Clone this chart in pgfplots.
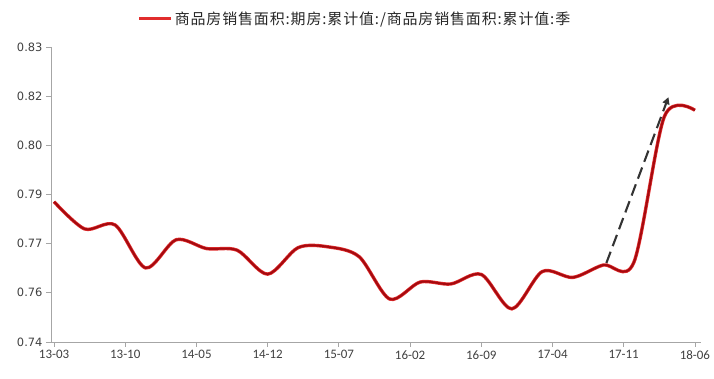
\documentclass[border=0pt]{standalone}
\usepackage{fontspec}
\usepackage{pgfplots}
\usepackage{pgfplotstable}
\pgfplotsset{compat=1.18}
\usetikzlibrary{arrows.meta}
\newfontfamily\cjk[LetterSpace=6]{Noto Sans CJK SC}
\newfontfamily\yfont{DejaVu Sans}
\newfontfamily\xfont{Carlito}
\definecolor{serred}{RGB}{165,10,15}
\definecolor{serglow}{RGB}{225,45,45}
\definecolor{axgray}{RGB}{166,166,166}
\definecolor{lblgray}{RGB}{64,64,64}

% quarterly ratio, months counted from 2013-03
\pgfplotstableread{
m v
0 0.7828
3 0.7745
6 0.7757
9 0.7626
12 0.7712
15 0.7685
18 0.7680
21 0.7607
24 0.7688
27 0.7690
30 0.7660
33 0.7531
36 0.7583
39 0.7577
42 0.7606
45 0.7501
48 0.7615
51 0.7597
54 0.7635
57 0.7643
60 0.8088
63 0.8107
}\ratiodata

\begin{document}
\begin{tikzpicture}
\begin{axis}[
  name=ax,
  scale only axis,
  width=650bp, height=295bp,
  xmin=-0.3, xmax=63.6,
  ymin=0.74, ymax=0.83,
  axis x line*=bottom, axis y line*=left,
  axis line style={axgray, line width=0.8bp},
  tick style={axgray, line width=0.8bp},
  tick align=outside,
  major tick length=5bp,
  xtick={0,7,14,21,28,35,42,49,56,63},
  xticklabels={13-03,13-10,14-05,14-12,15-07,16-02,16-09,17-04,17-11,18-06},
  ytick={0.74,0.755,0.77,0.785,0.80,0.815,0.83},
  yticklabels={0.74,0.76,0.77,0.79,0.80,0.82,0.83},
  x tick label style={font=\xfont\fontsize{13}{15}\selectfont, text=lblgray},
  y tick label style={font=\yfont\fontsize{11.5}{13}\selectfont, text=lblgray},
  legend style={draw=none, fill=none, at={(0.468,1)}, anchor=south, yshift=17bp,
    font=\cjk\fontsize{15}{17}\selectfont, text=black!85},
  legend image code/.code={\draw[serglow, line width=2.6bp] (0bp,0bp) -- (32bp,0bp);},
]
\addplot[serglow, line width=3.4bp, smooth, forget plot] table[x=m, y=v] {\ratiodata};
\addplot[serred, line width=2bp, smooth] table[x=m, y=v] {\ratiodata};
\addlegendentry{商品房销售面积:期房:累计值:/商品房销售面积:累计值:季}
\draw[black!80, line width=2.1bp, dash pattern=on 12bp off 6bp,
  -{Triangle[length=7bp,width=7bp]}]
  (axis cs:54.3,0.7641) -- (axis cs:60.4,0.8147);
\end{axis}
\pgfresetboundingbox
\path ([shift={(-51bp,-37bp)}]ax.south west) rectangle ([shift={(13bp,47bp)}]ax.north east);
\end{tikzpicture}
\end{document}
